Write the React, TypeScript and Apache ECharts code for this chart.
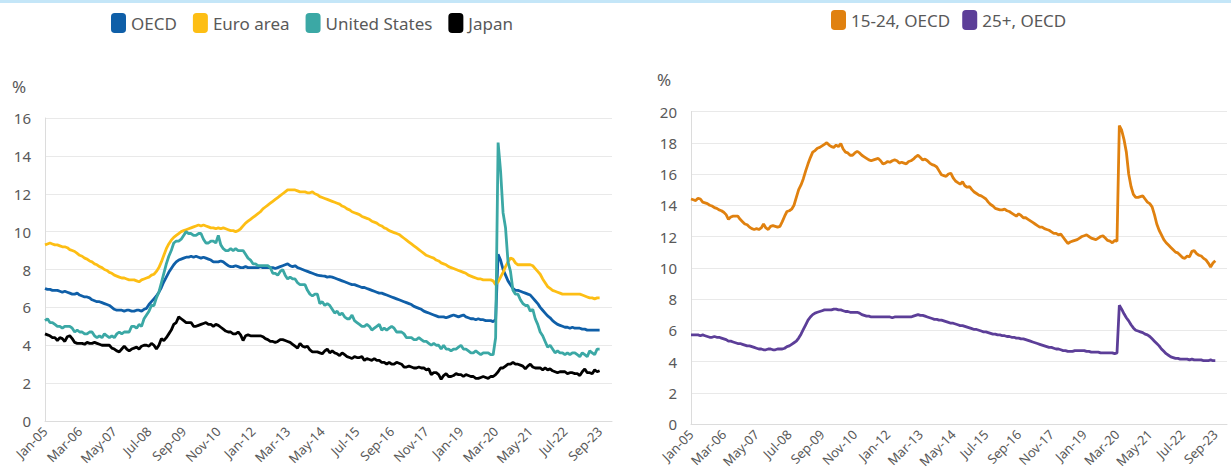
import React, { useEffect, useRef } from "react";
import * as echarts from "echarts";

const MONTH_NAMES = ["Jan", "Feb", "Mar", "Apr", "May", "Jun", "Jul", "Aug", "Sep", "Oct", "Nov", "Dec"];
const FIRST_YEAR = 2005;
const CATEGORY_COUNT = 230; // Jan-05 .. Feb-24 (data ends Sep-23)
const CATEGORIES: string[] = [];
for (let i = 0; i < CATEGORY_COUNT; i++) {
  const y = FIRST_YEAR + Math.floor(i / 12);
  CATEGORIES.push(MONTH_NAMES[i % 12] + "-" + String(y % 100).padStart(2, "0"));
}

const Y_TICKS_LEFT = [0, 2, 4, 6, 8, 10, 12, 14, 16];
const Y_TICKS_RIGHT = [0, 2, 4, 6, 8, 10, 12, 14, 16, 18, 20];

// Monthly unemployment rates, %, Jan-05 .. Sep-23
const OECD = [
  7.0, 6.95, 6.95, 6.9, 6.9, 6.9, 6.85, 6.8, 6.85, 6.8, 6.75, 6.7,
  6.7, 6.75, 6.65, 6.6, 6.55, 6.55, 6.5, 6.4, 6.35, 6.3, 6.3, 6.25,
  6.2, 6.15, 6.1, 6.0, 5.9, 5.85, 5.85, 5.85, 5.8, 5.85, 5.85, 5.8,
  5.8, 5.85, 5.85, 5.8, 5.9, 5.95, 6.15, 6.3, 6.45, 6.6, 6.8, 7.05,
  7.35, 7.6, 7.85, 8.05, 8.25, 8.4, 8.5, 8.55, 8.6, 8.65, 8.65, 8.7,
  8.65, 8.7, 8.65, 8.6, 8.65, 8.6, 8.55, 8.5, 8.4, 8.4, 8.4, 8.45,
  8.4, 8.3, 8.2, 8.15, 8.15, 8.2, 8.15, 8.1, 8.1, 8.15, 8.1, 8.1,
  8.1, 8.1, 8.1, 8.15, 8.1, 8.1, 8.1, 8.1, 8.1, 8.05, 8.1, 8.15,
  8.2, 8.25, 8.3, 8.2, 8.15, 8.2, 8.1, 8.05, 8.0, 7.95, 7.9, 7.85,
  7.8, 7.75, 7.7, 7.68, 7.66, 7.65, 7.6, 7.62, 7.6, 7.55, 7.5, 7.45,
  7.4, 7.35, 7.3, 7.25, 7.2, 7.2, 7.15, 7.1, 7.05, 7.05, 7.0, 6.95,
  6.9, 6.85, 6.8, 6.75, 6.75, 6.7, 6.65, 6.6, 6.55, 6.5, 6.45, 6.4,
  6.35, 6.3, 6.25, 6.2, 6.15, 6.05, 6.0, 5.95, 5.9, 5.8, 5.75, 5.7,
  5.65, 5.6, 5.55, 5.5, 5.5, 5.5, 5.45, 5.5, 5.55, 5.6, 5.55, 5.5,
  5.55, 5.6, 5.5, 5.45, 5.4, 5.4, 5.35, 5.4, 5.35, 5.35, 5.3, 5.3,
  5.3, 5.25, 5.35, 8.8, 8.5, 8.0, 7.7, 7.4, 7.2, 7.0, 6.9, 6.9,
  6.85, 6.8, 6.75, 6.7, 6.65, 6.5, 6.35, 6.2, 6.0, 5.85, 5.7, 5.55,
  5.45, 5.3, 5.2, 5.1, 5.05, 5.0, 4.95, 4.95, 4.9, 4.95, 4.9, 4.9,
  4.9, 4.85, 4.85, 4.8, 4.8, 4.8, 4.8, 4.8, 4.8,
];

const EURO_AREA = [
  9.3, 9.35, 9.4, 9.35, 9.3, 9.3, 9.25, 9.2, 9.2, 9.15, 9.05, 9.0,
  8.95, 8.85, 8.75, 8.7, 8.6, 8.55, 8.45, 8.4, 8.3, 8.25, 8.15, 8.1,
  8.0, 7.95, 7.85, 7.8, 7.7, 7.65, 7.6, 7.55, 7.55, 7.5, 7.45, 7.45,
  7.45, 7.4, 7.35, 7.45, 7.5, 7.55, 7.6, 7.7, 7.75, 7.9, 8.1, 8.4,
  8.75, 9.1, 9.35, 9.55, 9.7, 9.8, 9.9, 10.0, 10.05, 10.1, 10.15, 10.2,
  10.25, 10.3, 10.35, 10.3, 10.35, 10.3, 10.25, 10.2, 10.2, 10.15, 10.2, 10.15,
  10.2, 10.15, 10.1, 10.05, 10.05, 10.0, 10.05, 10.15, 10.3, 10.45, 10.55, 10.65,
  10.75, 10.85, 10.95, 11.05, 11.2, 11.3, 11.4, 11.5, 11.6, 11.7, 11.8, 11.9,
  12.0, 12.1, 12.2, 12.2, 12.2, 12.2, 12.15, 12.1, 12.1, 12.1, 12.05, 12.05,
  12.1, 12.0, 11.95, 11.85, 11.8, 11.75, 11.7, 11.65, 11.6, 11.55, 11.5, 11.45,
  11.35, 11.3, 11.2, 11.15, 11.05, 11.0, 10.95, 10.9, 10.8, 10.75, 10.7, 10.65,
  10.55, 10.5, 10.45, 10.35, 10.3, 10.2, 10.15, 10.05, 10.0, 9.95, 9.9, 9.85,
  9.75, 9.65, 9.55, 9.45, 9.35, 9.25, 9.15, 9.05, 8.95, 8.85, 8.75, 8.7,
  8.65, 8.6, 8.5, 8.45, 8.35, 8.3, 8.25, 8.15, 8.1, 8.05, 8.0, 7.95,
  7.9, 7.85, 7.8, 7.7, 7.65, 7.6, 7.55, 7.5, 7.5, 7.45, 7.45, 7.45,
  7.45, 7.4, 7.2, 7.35, 7.6, 7.85, 8.15, 8.4, 8.6, 8.55, 8.35, 8.25,
  8.25, 8.25, 8.25, 8.25, 8.25, 8.2, 8.05, 7.9, 7.75, 7.5, 7.3, 7.1,
  7.0, 6.9, 6.85, 6.8, 6.75, 6.7, 6.7, 6.7, 6.7, 6.7, 6.7, 6.7,
  6.7, 6.65, 6.6, 6.55, 6.5, 6.5, 6.45, 6.5, 6.5,
];

const UNITED_STATES = [
  5.3, 5.4, 5.2, 5.2, 5.1, 5.0, 5.0, 4.9, 5.0, 5.0, 5.0, 4.9,
  4.7, 4.8, 4.7, 4.7, 4.6, 4.6, 4.7, 4.7, 4.5, 4.4, 4.5, 4.4,
  4.6, 4.5, 4.4, 4.5, 4.4, 4.6, 4.7, 4.6, 4.7, 4.7, 4.7, 5.0,
  5.0, 4.9, 5.1, 5.0, 5.4, 5.6, 5.8, 6.1, 6.1, 6.5, 6.8, 7.3,
  7.8, 8.3, 8.7, 9.0, 9.4, 9.5, 9.5, 9.6, 9.8, 10.0, 9.9, 9.9,
  9.8, 9.8, 9.9, 9.9, 9.6, 9.4, 9.4, 9.5, 9.5, 9.4, 9.8, 9.3,
  9.1, 9.0, 9.0, 9.1, 9.0, 9.1, 9.0, 9.0, 9.0, 8.8, 8.6, 8.5,
  8.3, 8.3, 8.2, 8.2, 8.2, 8.2, 8.2, 8.1, 7.8, 7.8, 7.7, 7.9,
  8.0, 7.7, 7.5, 7.6, 7.5, 7.5, 7.3, 7.2, 7.2, 7.2, 6.9, 6.7,
  6.6, 6.7, 6.7, 6.2, 6.3, 6.1, 6.2, 6.1, 5.9, 5.7, 5.8, 5.6,
  5.7, 5.5, 5.4, 5.4, 5.6, 5.3, 5.2, 5.1, 5.0, 5.0, 5.1, 5.0,
  4.8, 4.9, 5.0, 5.1, 4.8, 4.9, 4.8, 4.9, 5.0, 4.9, 4.7, 4.7,
  4.7, 4.6, 4.4, 4.4, 4.4, 4.3, 4.3, 4.4, 4.3, 4.2, 4.2, 4.1,
  4.0, 4.1, 4.0, 4.0, 3.8, 4.0, 3.8, 3.8, 3.7, 3.8, 3.8, 3.9,
  4.0, 3.8, 3.8, 3.7, 3.6, 3.6, 3.7, 3.6, 3.5, 3.6, 3.6, 3.6,
  3.5, 3.5, 4.4, 14.7, 13.2, 11.0, 10.2, 8.4, 7.9, 6.9, 6.7, 6.7,
  6.4, 6.2, 6.1, 6.1, 5.8, 5.9, 5.4, 5.1, 4.7, 4.5, 4.2, 3.9,
  4.0, 3.8, 3.6, 3.7, 3.6, 3.6, 3.5, 3.6, 3.5, 3.6, 3.6, 3.5,
  3.4, 3.6, 3.5, 3.4, 3.7, 3.6, 3.5, 3.8, 3.8,
];

const JAPAN = [
  4.6, 4.55, 4.5, 4.4, 4.4, 4.25, 4.4, 4.35, 4.2, 4.45, 4.5, 4.35,
  4.15, 4.1, 4.1, 4.1, 4.05, 4.15, 4.1, 4.1, 4.15, 4.1, 4.05, 4.0,
  4.0, 4.0, 4.0, 3.85, 3.8, 3.7, 3.65, 3.8, 3.95, 3.8, 3.7, 3.8,
  3.85, 3.9, 3.8, 3.95, 4.0, 4.0, 3.95, 4.1, 4.0, 3.8, 4.0, 4.35,
  4.25, 4.4, 4.6, 4.8, 5.1, 5.2, 5.5, 5.4, 5.3, 5.2, 5.2, 5.2,
  5.0, 5.0, 5.05, 5.1, 5.15, 5.2, 5.1, 5.1, 5.0, 5.1, 5.05, 4.95,
  4.85, 4.75, 4.7, 4.7, 4.6, 4.6, 4.7, 4.55, 4.25, 4.5, 4.55, 4.5,
  4.5, 4.5, 4.5, 4.5, 4.45, 4.35, 4.3, 4.2, 4.2, 4.15, 4.2, 4.3,
  4.3, 4.25, 4.2, 4.15, 4.05, 3.95, 3.85, 4.1, 3.95, 3.9, 3.95, 3.75,
  3.65, 3.65, 3.65, 3.6, 3.55, 3.7, 3.8, 3.6, 3.7, 3.6, 3.55, 3.45,
  3.6, 3.5, 3.4, 3.35, 3.3, 3.4, 3.35, 3.35, 3.4, 3.2, 3.3, 3.25,
  3.2, 3.3, 3.2, 3.2, 3.1, 3.1, 3.0, 3.1, 3.0, 3.0, 3.1, 3.05,
  3.0, 2.85, 2.85, 2.9, 2.85, 2.8, 2.8, 2.85, 2.8, 2.8, 2.7, 2.75,
  2.45, 2.55, 2.55, 2.45, 2.2, 2.4, 2.5, 2.35, 2.35, 2.4, 2.5, 2.45,
  2.45, 2.35, 2.45, 2.4, 2.35, 2.35, 2.25, 2.25, 2.3, 2.35, 2.3, 2.25,
  2.35, 2.35, 2.45, 2.6, 2.8, 2.8, 2.9, 3.0, 3.0, 3.1, 3.0, 3.0,
  2.95, 2.9, 2.75, 2.9, 3.0, 2.85, 2.8, 2.8, 2.8, 2.7, 2.8, 2.7,
  2.75, 2.65, 2.6, 2.55, 2.6, 2.6, 2.6, 2.5, 2.55, 2.55, 2.5, 2.5,
  2.4, 2.6, 2.75, 2.55, 2.55, 2.5, 2.7, 2.6, 2.65,
];

const YOUTH_15_24 = [
  14.4, 14.35, 14.3, 14.45, 14.4, 14.2, 14.15, 14.1, 14.0, 13.95, 13.85, 13.8,
  13.7, 13.65, 13.55, 13.4, 13.1, 13.25, 13.3, 13.3, 13.3, 13.1, 12.95, 12.8,
  12.75, 12.6, 12.5, 12.45, 12.5, 12.45, 12.55, 12.8, 12.55, 12.45, 12.65, 12.7,
  12.65, 12.6, 12.65, 12.95, 13.3, 13.6, 13.65, 13.75, 14.0, 14.5, 15.0, 15.3,
  15.7, 16.2, 16.65, 17.05, 17.4, 17.5, 17.65, 17.7, 17.8, 17.9, 18.0, 17.85,
  17.75, 17.7, 17.85, 17.75, 17.95, 17.6, 17.4, 17.35, 17.2, 17.2, 17.35, 17.45,
  17.35, 17.2, 17.1, 17.0, 16.9, 16.85, 16.9, 16.95, 17.0, 16.85, 16.65, 16.7,
  16.8, 16.75, 16.85, 16.9, 16.85, 16.7, 16.75, 16.7, 16.65, 16.8, 16.85, 16.95,
  17.1, 17.2, 17.05, 16.9, 16.95, 16.85, 16.7, 16.6, 16.55, 16.45, 16.2, 15.95,
  15.9, 15.85, 16.0, 16.05, 15.75, 15.55, 15.45, 15.35, 15.5, 15.25, 15.15, 15.2,
  15.0, 14.85, 14.75, 14.65, 14.6, 14.5, 14.4, 14.2, 14.05, 13.95, 13.8, 13.75,
  13.7, 13.7, 13.75, 13.65, 13.6, 13.5, 13.4, 13.3, 13.45, 13.35, 13.2, 13.2,
  13.1, 13.0, 12.9, 12.8, 12.7, 12.6, 12.6, 12.5, 12.45, 12.4, 12.3, 12.2,
  12.2, 12.1, 12.15, 11.95, 11.75, 11.55, 11.65, 11.7, 11.75, 11.8, 11.9, 12.0,
  12.05, 12.1, 12.0, 11.9, 11.85, 11.8, 11.9, 12.0, 12.05, 11.9, 11.75, 11.7,
  11.6, 11.75, 11.7, 19.1, 18.8, 18.2, 17.4, 16.0, 15.2, 14.7, 14.5, 14.5,
  14.55, 14.6, 14.4, 14.2, 14.1, 13.9, 13.4, 12.8, 12.4, 12.1, 11.8, 11.6,
  11.45, 11.3, 11.15, 11.0, 10.95, 10.8, 10.65, 10.6, 10.75, 10.7, 11.05, 11.1,
  10.9, 10.8, 10.75, 10.6, 10.5, 10.3, 10.05, 10.3, 10.45,
];

const ADULT_25_PLUS = [
  5.7, 5.7, 5.7, 5.7, 5.65, 5.7, 5.65, 5.6, 5.55, 5.55, 5.6, 5.55,
  5.55, 5.5, 5.45, 5.4, 5.3, 5.3, 5.25, 5.2, 5.15, 5.15, 5.1, 5.05,
  5.0, 5.0, 4.95, 4.9, 4.85, 4.8, 4.8, 4.75, 4.75, 4.8, 4.8, 4.75,
  4.75, 4.8, 4.8, 4.8, 4.85, 4.95, 5.0, 5.1, 5.2, 5.3, 5.5, 5.75,
  6.05, 6.35, 6.65, 6.85, 7.0, 7.1, 7.15, 7.2, 7.25, 7.3, 7.3, 7.3,
  7.3, 7.35, 7.35, 7.3, 7.3, 7.25, 7.2, 7.2, 7.15, 7.15, 7.15, 7.15,
  7.1, 7.0, 6.95, 6.9, 6.9, 6.85, 6.85, 6.85, 6.85, 6.85, 6.85, 6.85,
  6.85, 6.85, 6.8, 6.85, 6.85, 6.85, 6.85, 6.85, 6.85, 6.85, 6.85, 6.9,
  6.95, 7.0, 6.95, 6.95, 6.9, 6.85, 6.8, 6.75, 6.7, 6.7, 6.65, 6.65,
  6.6, 6.55, 6.5, 6.45, 6.45, 6.4, 6.35, 6.3, 6.3, 6.25, 6.2, 6.15,
  6.1, 6.05, 6.05, 6.0, 5.95, 5.9, 5.9, 5.85, 5.8, 5.75, 5.75, 5.7,
  5.7, 5.65, 5.65, 5.6, 5.6, 5.55, 5.55, 5.5, 5.5, 5.45, 5.45, 5.4,
  5.35, 5.3, 5.25, 5.2, 5.15, 5.1, 5.05, 5.0, 4.95, 4.9, 4.9, 4.85,
  4.8, 4.8, 4.75, 4.7, 4.7, 4.65, 4.65, 4.65, 4.7, 4.7, 4.7, 4.7,
  4.7, 4.65, 4.65, 4.6, 4.6, 4.6, 4.6, 4.55, 4.55, 4.55, 4.55, 4.55,
  4.55, 4.5, 4.55, 7.6, 7.35, 7.05, 6.8, 6.6, 6.35, 6.15, 6.0, 5.95,
  5.9, 5.85, 5.75, 5.7, 5.6, 5.45, 5.3, 5.15, 5.0, 4.8, 4.65, 4.5,
  4.4, 4.3, 4.25, 4.2, 4.2, 4.15, 4.15, 4.15, 4.15, 4.1, 4.15, 4.1,
  4.1, 4.1, 4.1, 4.05, 4.05, 4.05, 4.1, 4.05, 4.05,
];

const COLORS = {
  oecd: "#0f5fa8",
  euro: "#fdbe14",
  us: "#3ba8a5",
  japan: "#000000",
  youth: "#e0810f",
  adult: "#5c3e98",
};

const FONT = "'Noto Sans', 'Open Sans', sans-serif";
const TEXT_COLOR = "#595959";
const GRID_COLOR = "#e9e9e9";

function xAxisFor(gridIndex: number) {
  return {
    type: "category" as const,
    gridIndex,
    data: CATEGORIES,
    boundaryGap: false,
    axisLine: { show: true, lineStyle: { color: "#dcdcdc", width: 1 } },
    axisTick: { show: false },
    axisLabel: {
      interval: 13,
      rotate: 45,
      color: TEXT_COLOR,
      fontSize: 13,
      fontFamily: FONT,
      margin: 8,
    },
    splitLine: { show: false },
  };
}

function yAxisFor(gridIndex: number, ticks: number[]) {
  return {
    type: "value" as const,
    gridIndex,
    min: ticks[0],
    max: ticks[ticks.length - 1],
    interval: ticks[1] - ticks[0],
    axisLine: { show: true, lineStyle: { color: "#dcdcdc", width: 1 } },
    axisTick: { show: false },
    axisLabel: { color: TEXT_COLOR, fontSize: 15, fontFamily: FONT, margin: 14 },
    splitLine: { show: true, lineStyle: { color: GRID_COLOR, width: 1 } },
  };
}

function lineSeries(name: string, data: number[], color: string, axisIndex: number) {
  return {
    type: "line" as const,
    name,
    data,
    xAxisIndex: axisIndex,
    yAxisIndex: axisIndex,
    showSymbol: false,
    symbol: "none",
    lineStyle: { color, width: 2.8 },
    itemStyle: { color },
    emphasis: { disabled: true },
  };
}

export default function App() {
  const ref = useRef<HTMLDivElement>(null);

  useEffect(() => {
    if (!ref.current) return;
    const chart = echarts.init(ref.current, undefined, { renderer: "svg" });
    const legendCommon = {
      icon: "roundRect",
      itemWidth: 15,
      itemHeight: 20,
      textStyle: { color: TEXT_COLOR, fontSize: 17, fontFamily: FONT },
    };
    chart.setOption({
      animation: false,
      backgroundColor: "#ffffff",
      textStyle: { fontFamily: FONT },
      legend: [
        {
          ...legendCommon,
          itemGap: 16,
          data: ["OECD", "Euro area", "United States", "Japan"],
          left: 106,
          top: 8,
        },
        {
          ...legendCommon,
          itemGap: 12,
          data: ["15-24, OECD", "25+, OECD"],
          left: 826,
          top: 5,
        },
      ],
      grid: [
        { left: 45, right: 619, top: 118, bottom: 55, containLabel: false },
        { left: 691, right: 4, top: 111.5, bottom: 52, containLabel: false },
      ],
      xAxis: [xAxisFor(0), xAxisFor(1)],
      yAxis: [yAxisFor(0, Y_TICKS_LEFT), yAxisFor(1, Y_TICKS_RIGHT)],
      graphic: [
        {
          type: "rect",
          left: 0,
          top: 0,
          shape: { width: 1231, height: 3 },
          style: { fill: "#c4e6f8" },
          silent: true,
        },
        {
          type: "text",
          left: 12,
          top: 78,
          style: { text: "%", fill: TEXT_COLOR, fontSize: 17, fontFamily: FONT },
        },
        {
          type: "text",
          left: 657,
          top: 71,
          style: { text: "%", fill: TEXT_COLOR, fontSize: 17, fontFamily: FONT },
        },
      ],
      series: [
        lineSeries("OECD", OECD, COLORS.oecd, 0),
        lineSeries("Euro area", EURO_AREA, COLORS.euro, 0),
        lineSeries("United States", UNITED_STATES, COLORS.us, 0),
        lineSeries("Japan", JAPAN, COLORS.japan, 0),
        lineSeries("15-24, OECD", YOUTH_15_24, COLORS.youth, 1),
        lineSeries("25+, OECD", ADULT_25_PLUS, COLORS.adult, 1),
      ],
    });
    return () => chart.dispose();
  }, []);

  return (
    <div
      ref={ref}
      style={{ position: "fixed", left: 0, top: 0, width: 1231, height: 476, background: "#fff" }}
    />
  );
}
